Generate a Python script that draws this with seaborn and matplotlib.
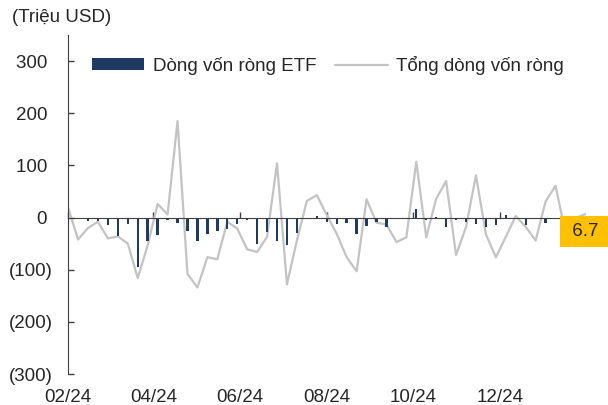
import numpy as np
import pandas as pd
import matplotlib
matplotlib.use("Agg")
import matplotlib.pyplot as plt
import matplotlib.dates as mdates
from matplotlib.patches import Patch
from matplotlib.lines import Line2D
from matplotlib.ticker import FuncFormatter, FixedLocator
import seaborn as sns

# du lieu theo tuan (trieu USD), doc tu hinh
ngay = pd.date_range("2024-02-01", periods=53, freq="7D")

dong_von_etf = [-12, -3, -6, -6, -15, -35, -12, -95, -45, -34,
                -4, -10, -26, -44, -31, -25, -21, -12, -5, -50,
                -28, -44, -53, -30, -2, 3, -8, -13, -10, -31,
                -16, -8, -18, 0, 0, 17, -4, 2, -18, -4,
                -8, -12, -18, -14, 4, 0, -15, -3, -10, -2,
                -6, -2, 1]

tong_dong_von = [19, -42, -20, -8, -40, -36, -50, -116, -53, 26,
                 6, 185, -108, -134, -76, -80, -8, -21, -61, -66,
                 -37, 104, -128, -44, 32, 43, 5, -31, -76, -103,
                 35, -10, -13, -47, -38, 107, -38, 36, 70, -72,
                 -18, 81, -32, -76, -37, 3, -18, -44, 31, 61,
                 -30, -1, 6.7]

nhan_cuoi = "6.7"
ten_etf = "Dòng vốn ròng ETF"
ten_tong = "Tổng dòng vốn ròng"

df = pd.DataFrame({"x": mdates.date2num(ngay), "etf": dong_von_etf, "tong": tong_dong_von})

sns.set_style("white")
plt.rcParams["font.family"] = ["Liberation Sans", "DejaVu Sans"]
plt.rcParams["font.size"] = 13.5

mau_cot = "#1F3B63"
mau_duong = "#C3C3C3"
mau_truc = "#404040"
co_chu = 13.5

fig = plt.figure(figsize=(6.08, 4.05), dpi=100)
ax = fig.add_axes([0.112, 0.0765, 0.852, 0.837])

sns.barplot(data=df, x="x", y="etf", native_scale=True, width=0.24,
            color=mau_cot, saturation=1, linewidth=0, ax=ax, zorder=3)
sns.lineplot(data=df, x="x", y="tong", color=mau_duong, linewidth=1.6, ax=ax, zorder=2)

ax.set_xlim(df["x"].iloc[0], df["x"].iloc[-1] + 0.5)
ax.set_ylim(-300, 350)
ax.set_xlabel("")
ax.set_ylabel("")

# truc y
ax.set_yticks([300, 200, 100, 0, -100, -200, -300])
ax.yaxis.set_major_formatter(FuncFormatter(lambda v, p: f"({abs(v):.0f})" if v < 0 else f"{v:.0f} "))
ax.tick_params(axis="y", left=True, direction="in", length=4, width=1, color=mau_truc, pad=11, labelsize=co_chu)
ax.spines["left"].set_color(mau_truc)
ax.spines["left"].set_bounds(-300, 350)
ax.spines["top"].set_visible(False)
ax.spines["right"].set_visible(False)

# truc x nam tai 0, nhan o duoi
thang = mdates.date2num(pd.date_range("2024-02-01", "2024-12-31", freq="2MS"))
ax.spines["bottom"].set_position(("data", 0))
ax.spines["bottom"].set_color(mau_truc)
ax.spines["bottom"].set_zorder(4)
ax.xaxis.set_major_locator(FixedLocator(thang))
ax.tick_params(axis="x", bottom=True, direction="in", length=4, width=1, color=mau_truc, labelbottom=False)

ax2 = ax.secondary_xaxis(0.0)
ax2.xaxis.set_major_locator(FixedLocator(thang))
ax2.xaxis.set_major_formatter(mdates.DateFormatter("%m/%y"))
ax2.spines["bottom"].set_visible(False)
ax2.tick_params(axis="x", length=0, pad=11, labelsize=co_chu)

# nhan gia tri cuoi
ax.annotate(" " + nhan_cuoi + " ", xy=(df["x"].iloc[-1], 0), xytext=(0, -4), textcoords="offset points",
            ha="center", va="top", fontsize=co_chu, annotation_clip=False, zorder=6,
            bbox=dict(boxstyle="square,pad=0.38", facecolor="#FFC000", edgecolor="none"))

# chu thich
handles = [Patch(facecolor=mau_cot, edgecolor="none"),
           Line2D([0], [0], color=mau_duong, linewidth=1.6)]
ax.legend(handles, [ten_etf, ten_tong], ncol=2, frameon=False, loc="center left",
          bbox_to_anchor=(0.046, 0.911), borderaxespad=0, borderpad=0,
          handlelength=2.8, handleheight=0.55, handletextpad=0.45, columnspacing=1.0,
          fontsize=co_chu)

fig.text(0.02, 0.956, "(Triệu USD)", ha="left", va="center", fontsize=co_chu)

fig.savefig("out.png", dpi=100)
